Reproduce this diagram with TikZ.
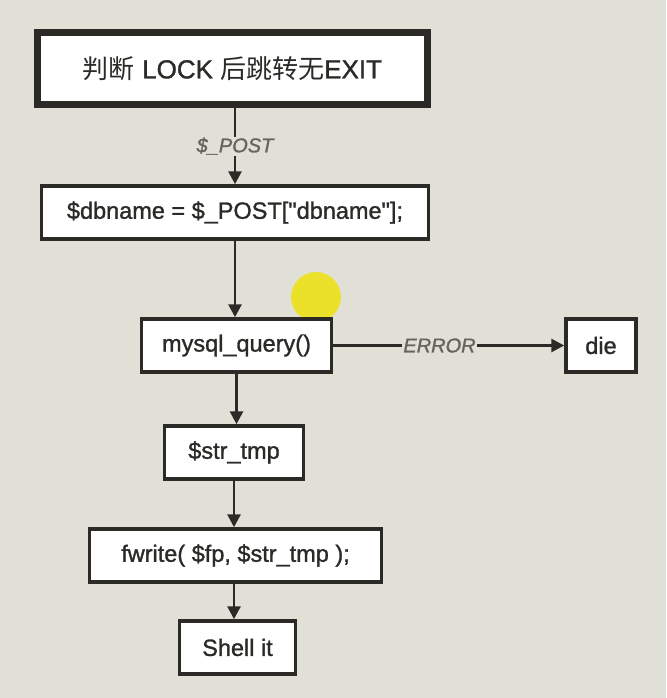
\documentclass[tikz,border=0pt]{standalone}
\usepackage{fontspec}
\setmainfont{Liberation Sans}[FakeBold=1.2, Ligatures=TeXOff]
\newfontfamily\cjk{Noto Sans CJK SC}
\usetikzlibrary{arrows.meta}

\definecolor{bgpaper}{HTML}{E1E0D7}
\definecolor{ink}{HTML}{2B2A26}
\definecolor{labelgray}{HTML}{65645D}

\tikzset{
  stepbox/.style={draw=ink, line width=3.5pt, fill=white, text=ink,
    font=\fontsize{23.5}{28}\selectfont, inner sep=0pt},
  flow/.style={draw=ink, line width=2.8pt, -{Triangle[length=13pt,width=13pt]}},
  flowlabel/.style={fill=bgpaper, text=labelgray, inner sep=1pt,
    font=\fontsize{20}{24}\selectfont\itshape}
}

\begin{document}
\begin{tikzpicture}[x=1pt,y=-1pt]
  \fill[bgpaper] (0,0) rectangle (666,698);
  \useasboundingbox (0,0) rectangle (666,698);
  % cursor highlight
  \fill[yellow!85!olive, opacity=0.8] (316,297) circle (25);
  % boxes
  \node[stepbox, line width=7pt, minimum width=390pt, minimum height=72pt]
    (lock) at (232.5,68.5) {\fontsize{26}{30}\selectfont{\cjk 判断} LOCK {\cjk 后跳转无}EXIT};
  \node[stepbox, minimum width=387pt, minimum height=53pt]
    (dbname) at (235,212.5) {\$dbname = \$\_POST["dbname"];};
  \node[stepbox, minimum width=190pt, minimum height=53pt]
    (query) at (236.5,345.5) {mysql\_query()};
  \node[stepbox, minimum width=70pt, minimum height=53pt]
    (die) at (601,345.5) {die};
  \node[stepbox, minimum width=139pt, minimum height=53pt]
    (strtmp) at (234,452.5) {\$str\_tmp};
  \node[stepbox, minimum width=292pt, minimum height=53pt]
    (fwrite) at (235.5,555.5) {fwrite( \$fp, \$str\_tmp );};
  \node[stepbox, minimum width=116pt, minimum height=53pt]
    (shell) at (237.5,647.5) {Shell it};
  % connectors
  \draw[flow] (lock.south -| dbname.north) -- node[flowlabel, pos=0.5] {\$\_POST} (dbname.north);
  \draw[flow] (dbname.south) -- (query.north -| dbname.south);
  \draw[flow] (query.east) -- node[flowlabel, pos=0.46] {ERROR} (die.west);
  \draw[flow] (query.south) -- (strtmp.north -| query.south);
  \draw[flow] (strtmp.south) -- (fwrite.north -| strtmp.south);
  \draw[flow] (fwrite.south -| strtmp.south) -- (shell.north -| strtmp.south);
\end{tikzpicture}
\end{document}
